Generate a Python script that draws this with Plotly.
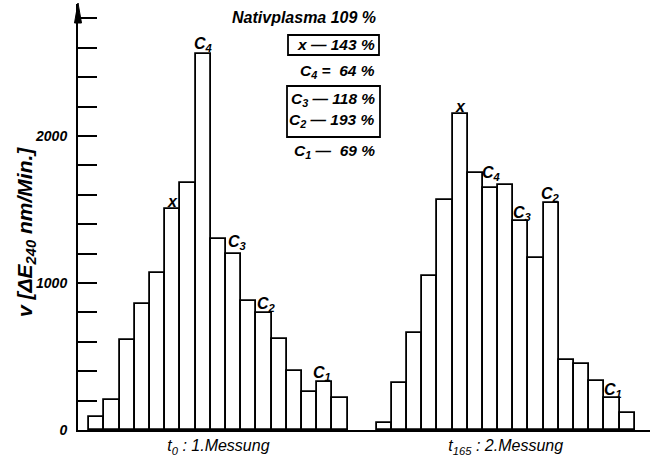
import plotly.graph_objects as go

# ---- data -------------------------------------------------------------
group_names = ["t<sub>0</sub> : 1.Messung", "t<sub>165</sub> : 2.Messung"]
values_t0 = [90, 204, 612, 855, 1070, 1501, 1680, 2556, 1297, 1195,
             875, 798, 621, 401, 261, 329, 220]
values_t165 = [50, 318, 658, 1048, 1563, 2152, 1751, 1644, 1664, 1424,
               1172, 1542, 476, 447, 333, 220, 113]
peak_index = [5, 7, 9, 11, 15]
peak_names = ["x", "C<sub>4</sub>", "C<sub>3</sub>", "C<sub>2</sub>", "C<sub>1</sub>"]
y_tick_values = [0, 1000, 2000]
y_tick_labels = ["0", "1000", "2000"]
y_minor_step = 200
legend_head = "Nativplasma 109 %"
legend_lines = ["x — 143 %", "C<sub>4</sub> =  64 %", "C<sub>3</sub> — 118 %",
                "C<sub>2</sub> — 193 %", "C<sub>1</sub> —  69 %"]

# ---- layout geometry ---------------------------------------------------
W, H = 650, 465
L, R, T, B = 78, 0, 4, 35
PW, PH = W - L - R, H - T - B
X_RANGE = 37.66
Y_RANGE = 2898
offsets = [0.744, 19.66]

FONT = "Liberation Sans, Arial, sans-serif"


def px(x):
    return (x - L) / PW


def py(y):
    return (H - B - y) / PH


fig = go.Figure()
for off, vals in zip(offsets, [values_t0, values_t165]):
    fig.add_trace(go.Bar(
        x=[off + i + 0.5 for i in range(len(vals))],
        y=vals,
        width=1,
        marker=dict(color="white", line=dict(color="black", width=1.8)),
        showlegend=False,
        hoverinfo="skip",
    ))

# peak labels
shifts_t0 = [(0, 0), (0, 1), (4, 3), (3, 0), (-3, 0)]
shifts_t165 = [(0, 0), (1, 6), (2, -1), (-1, 0), (1, -1)]
for off, vals, shifts in zip(offsets, [values_t0, values_t165], [shifts_t0, shifts_t165]):
    for idx, name, (dx, dy) in zip(peak_index, peak_names, shifts):
        fig.add_annotation(
            x=off + idx + 0.5, y=vals[idx], text=name, showarrow=False,
            yanchor="bottom", xanchor="center", xshift=dx, yshift=dy - 3,
            font=dict(family=FONT, size=16, color="black", style="italic", weight="bold"),
        )

# legend text block
fig.add_annotation(
    x=px(378), y=py(17.5), xref="paper", yref="paper", text=legend_head,
    showarrow=False, xanchor="right", yanchor="middle",
    font=dict(family=FONT, size=16, color="black", style="italic", weight="bold"),
)
line_y = [45, 72, 99, 121, 151]
for txt, yy in zip(legend_lines, line_y):
    fig.add_annotation(
        x=px(377), y=py(yy), xref="paper", yref="paper", text=txt,
        showarrow=False, xanchor="right", yanchor="middle",
        font=dict(family=FONT, size=15.5, color="black", style="italic", weight="bold"),
    )
for (x0, y0, x1, y1) in [(288, 35, 379, 55), (287, 86, 380, 137)]:
    fig.add_shape(type="rect", xref="paper", yref="paper",
                  x0=px(x0), x1=px(x1), y0=py(y1), y1=py(y0),
                  line=dict(color="black", width=1.8), fillcolor="rgba(0,0,0,0)")

# y axis arrow head
fig.add_shape(type="path", xref="paper", yref="paper",
              path=f"M {px(78)} {py(3)} L {px(74.5)} {py(23)} L {px(81.5)} {py(23)} Z",
              fillcolor="black", line=dict(color="black", width=1))

# y axis title
fig.add_annotation(
    x=px(26), y=py(232), xref="paper", yref="paper",
    text="v [ΔE<sub>240</sub> nm/Min.]", textangle=-90, showarrow=False,
    xanchor="center", yanchor="middle",
    font=dict(family=FONT, size=21, color="black", style="italic", weight="bold"),
)

fig.update_layout(
    width=W, height=H,
    margin=dict(l=L, r=R, t=T, b=B, pad=0),
    paper_bgcolor="white", plot_bgcolor="white",
    bargap=0, showlegend=False,
    xaxis=dict(
        range=[0, X_RANGE], showgrid=False, zeroline=False,
        showline=True, linecolor="black", linewidth=2,
        tickvals=[off + 8.5 for off in offsets], ticktext=group_names,
        ticks="", tickfont=dict(family=FONT, size=16, color="black", style="italic"),
        ticklabelstandoff=0,
    ),
    yaxis=dict(
        range=[0, Y_RANGE], showgrid=False, zeroline=False,
        showline=True, linecolor="black", linewidth=2,
        tickvals=y_tick_values, ticktext=y_tick_labels,
        ticks="inside", ticklen=19, tickwidth=1.8, tickcolor="black",
        tickfont=dict(family=FONT, size=14, color="black", style="italic", weight="bold"),
        ticklabelstandoff=6,
        minor=dict(dtick=y_minor_step, tick0=0, ticks="inside", ticklen=19,
                   tickwidth=1.8, tickcolor="black", showgrid=False),
    ),
)

fig.write_html("out.html")
